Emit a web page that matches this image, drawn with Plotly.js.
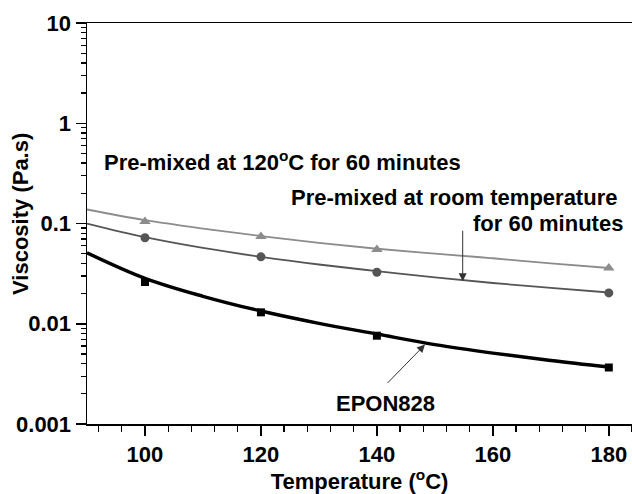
<!DOCTYPE html>
<html>
<head>
<meta charset="utf-8">
<script src="https://cdn.plot.ly/plotly-3.0.1.min.js"></script>
<style>
  html, body { margin: 0; padding: 0; background: #fff; }
  #chart { width: 632px; height: 494px; }
</style>
</head>
<body>
<div id="chart"></div>
<script>
// Fitted viscosity curves (Pa.s) sampled along temperature (°C)
const curveTemp = [90, 100, 110, 120, 130, 140, 150, 160, 170, 180];
const curveHot  = [0.138, 0.108, 0.089, 0.075, 0.064, 0.056, 0.050, 0.045, 0.040, 0.036];
const curveRoom = [0.100, 0.073, 0.057, 0.0465, 0.039, 0.0335, 0.029, 0.0255, 0.0228, 0.0205];
const curveEpon = [0.051, 0.0284, 0.0188, 0.0134, 0.0101, 0.0079, 0.0062, 0.0051, 0.0043, 0.0037];

// Measured points
const pointTemp = [100, 120, 140, 180];
const pointHot  = [0.105, 0.074, 0.055, 0.036];
const pointRoom = [0.072, 0.0465, 0.0326, 0.0203];
const pointEpon = [0.0261, 0.013, 0.0076, 0.00366];

// Axis ticks
const xTicks = [100, 120, 140, 160, 180];
const yTicks = [0.001, 0.01, 0.1, 1, 10];
const yTickText = ['0.001', '0.01', '0.1', '1', '10'];

const FONT = 'Liberation Sans, Arial, sans-serif';

function curve(y, color, width) {
  return { x: curveTemp, y: y, mode: 'lines', type: 'scatter',
           line: { color: color, width: width, shape: 'spline', smoothing: 1 },
           hoverinfo: 'skip', showlegend: false };
}
function points(y, color, symbol, size) {
  return { x: pointTemp, y: y, mode: 'markers', type: 'scatter',
           marker: { color: color, symbol: symbol, size: size },
           showlegend: false };
}

const data = [
  curve(curveHot, '#8c8c8c', 1.8),
  curve(curveRoom, '#555555', 1.8),
  curve(curveEpon, '#000000', 3.4),
  points(pointHot, '#8c8c8c', 'triangle-up', 10),
  points(pointRoom, '#555555', 'circle', 9),
  points(pointEpon, '#000000', 'square', 8)
];

const bold = (size) => ({ family: FONT, size: size, color: '#000', weight: 'bold' });

const layout = {
  width: 632, height: 494,
  margin: { l: 87, r: 0, t: 23, b: 70 },
  paper_bgcolor: '#fff', plot_bgcolor: '#fff',
  font: { family: FONT, color: '#000' },
  xaxis: {
    range: [90, 184],
    tickvals: xTicks,
    ticks: 'outside', ticklen: 10, tickwidth: 1.5, tickcolor: '#000',
    showline: true, linecolor: '#000', linewidth: 1.5, mirror: true,
    showgrid: false, zeroline: false,
    tickfont: bold(22),
    minor: { dtick: 4, tick0: 0, ticks: 'outside', ticklen: 6, tickwidth: 1.3, tickcolor: '#000', showgrid: false },
    title: { text: 'Temperature (<sup>o</sup>C)', standoff: 5, font: bold(22) }
  },
  yaxis: {
    type: 'log',
    range: [-3, 1],
    tickvals: yTicks, ticktext: yTickText,
    ticks: 'outside', ticklen: 10, tickwidth: 1.5, tickcolor: '#000',
    showline: true, linecolor: '#000', linewidth: 1.5,
    showgrid: false, zeroline: false,
    tickfont: bold(22),
    minor: { dtick: 'D1', ticks: 'outside', ticklen: 5, tickwidth: 1.3, tickcolor: '#000', showgrid: false }
  },
  annotations: [
    { xref: 'paper', yref: 'paper', x: -0.121, y: 0.524, textangle: -90,
      text: 'Viscosity (Pa.s)', showarrow: false, font: bold(22),
      xanchor: 'center', yanchor: 'middle' },
    { xref: 'paper', yref: 'paper', x: 0.028, y: 0.656, xanchor: 'left', yanchor: 'middle',
      text: 'Pre-mixed at 120<sup>o</sup>C for 60 minutes', showarrow: false, font: bold(22) },
    { xref: 'paper', yref: 'paper', x: 0.976, y: 0.566, xanchor: 'right', yanchor: 'middle',
      text: 'Pre-mixed at room temperature', showarrow: false, font: bold(22) },
    { xref: 'paper', yref: 'paper', x: 0.987, y: 0.499, xanchor: 'right', yanchor: 'middle',
      text: 'for 60 minutes', showarrow: false, font: bold(22) },
    { xref: 'paper', yref: 'paper', x: 0.548, y: 0.05, xanchor: 'center', yanchor: 'middle',
      text: 'EPON828', showarrow: false, font: bold(22) },
    // pointer to the room-temperature curve
    { x: 154.8, y: Math.log10(0.0265), xref: 'x', yref: 'y', text: '',
      showarrow: true, arrowhead: 2, arrowsize: 1.6, arrowwidth: 1, arrowcolor: '#333',
      ax: 0, ay: -52 },
    // pointer to the EPON828 curve
    { x: 148.3, y: Math.log10(0.0062), xref: 'x', yref: 'y', text: '',
      showarrow: true, arrowhead: 2, arrowsize: 1.6, arrowwidth: 1, arrowcolor: '#333',
      ax: -39, ay: 40 }
  ]
};

Plotly.newPlot('chart', data, layout, { staticPlot: true, displayModeBar: false });
</script>
</body>
</html>
